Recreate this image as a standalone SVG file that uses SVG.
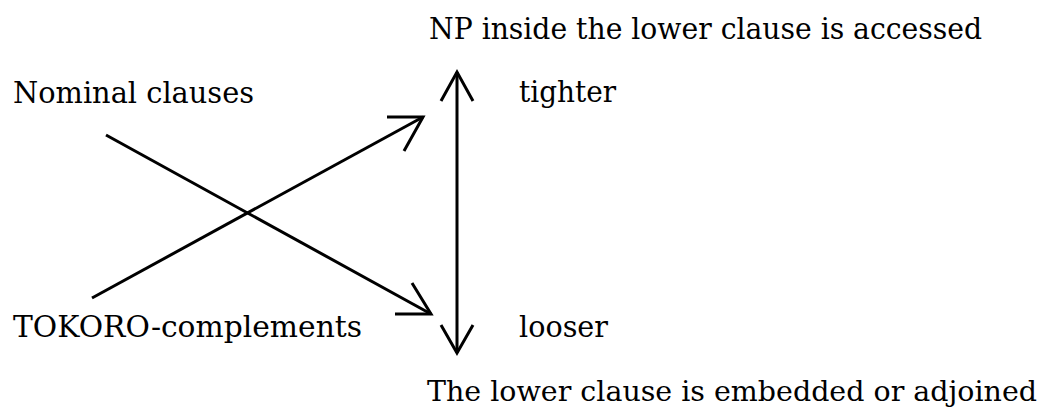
<svg xmlns="http://www.w3.org/2000/svg" width="1042" height="410" viewBox="0 0 1042 410">
<style>
text{font-family:"DejaVu Serif","Liberation Serif",serif;font-size:29px;fill:#000}
.ln{stroke:#000;stroke-width:3;fill:none;stroke-linecap:butt;stroke-linejoin:miter}
</style>
<rect width="1042" height="410" fill="#fff"/>
<g id="top-label"><text x="429" y="39" textLength="553" lengthAdjust="spacingAndGlyphs">NP inside the lower clause is accessed</text></g>
<g id="nominal"><text x="13" y="103" textLength="241" lengthAdjust="spacingAndGlyphs">Nominal clauses</text></g>
<g id="tighter"><text x="519" y="102" textLength="97" lengthAdjust="spacingAndGlyphs">tighter</text></g>
<g id="tokoro"><text x="13" y="337" textLength="349" lengthAdjust="spacingAndGlyphs">TOKORO-complements</text></g>
<g id="looser"><text x="519" y="337" textLength="89" lengthAdjust="spacingAndGlyphs">looser</text></g>
<g id="bottom-label"><text x="427" y="401" style="font-size:28px" textLength="610" lengthAdjust="spacingAndGlyphs">The lower clause is embedded or adjoined</text></g>
<g id="connectors">
<path class="ln" d="M457 72 V353"/>
<path class="ln" d="M441 101 L457 72 L473 101"/>
<path class="ln" d="M441 325 L457 353 L473 325"/>
<path class="ln" d="M92 298 L423 117"/>
<path class="ln" d="M387 117 H423 L404 151"/>
<path class="ln" d="M106 135 L431 314"/>
<path class="ln" d="M395 314 H431 L412 283"/>
</g>
</svg>
